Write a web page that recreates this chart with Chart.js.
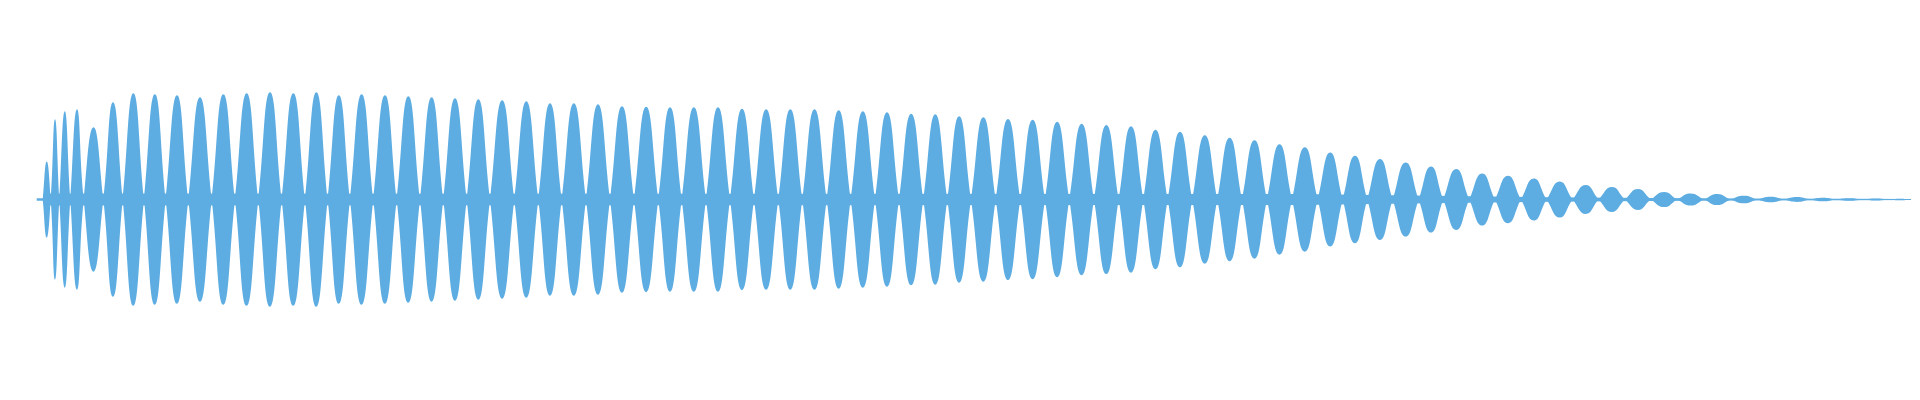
<!DOCTYPE html>
<html>
<head>
<meta charset="utf-8">
<script src="https://cdn.jsdelivr.net/npm/chart.js@4"></script>
<style>
  html, body { margin: 0; padding: 0; background: #ffffff; }
  #wrap { width: 1920px; height: 400px; }
</style>
</head>
<body>
<div id="wrap"><canvas id="waveChart"></canvas></div>
<script>
// time axis in ms, amplitude as fraction of full scale
const clipLength = 1920;

// zero-crossings of the envelope (ms)
const valleyTimes = [
    42.7, 50.7, 59.3, 70.3, 83.7, 103.3, 122.7, 144, 165.7, 188.3,
    211.7, 235, 258.3, 281.7, 305, 327.7, 350, 373.3, 396.7, 420,
    443.3, 466.7, 490, 514.3, 538.3, 561.7, 586, 610, 634, 658.3,
    681.7, 706, 730, 754, 778.3, 802.3, 826.7, 850.7, 875, 899,
    923.3, 947.3, 971, 995.7, 1020.3, 1045, 1069.3, 1094, 1118.7, 1143.3,
    1167.7, 1192.3, 1217.3, 1242, 1267, 1292, 1317.7, 1342.7, 1367.3, 1392.7,
    1418.7, 1443.3, 1469.3, 1495, 1521, 1546.7, 1572.7, 1598.7, 1625, 1651,
    1677.3, 1704, 1730.7, 1757.3, 1784, 1810, 1836, 1862.7, 1889, 1911
];

// peak amplitude of each lobe between two valleys
const peakAmps = [
    0.19, 0.40, 0.44, 0.45, 0.36, 0.485, 0.53, 0.525, 0.52, 0.51,
    0.525, 0.53, 0.535, 0.53, 0.535, 0.52, 0.525, 0.52, 0.515, 0.51,
    0.505, 0.50, 0.495, 0.49, 0.48, 0.48, 0.475, 0.465, 0.462, 0.46,
    0.46, 0.46, 0.452, 0.45, 0.45, 0.45, 0.445, 0.44, 0.435, 0.428,
    0.425, 0.415, 0.41, 0.402, 0.398, 0.388, 0.378, 0.372, 0.365, 0.348,
    0.338, 0.32, 0.308, 0.295, 0.275, 0.26, 0.235, 0.218, 0.202, 0.185,
    0.165, 0.152, 0.13, 0.118, 0.105, 0.09, 0.072, 0.062, 0.052, 0.038,
    0.03, 0.028, 0.019, 0.014, 0.012, 0.009, 0.0065, 0.005, 0.004
];

// residual level between lobes
const floorTimes = [36.7, 42.7, 44, 1300, 1450, 1550, 1650, 1750, 1850, 1911];
const floorAmps = [0.006, 0.006, 0.03, 0.028, 0.018, 0.011, 0.008, 0.005, 0.0035, 0.003];

const waveColor = '#5DADE2';

// two curves crossing at every valley; the area between them forms the lobes
const curveA = [{ x: valleyTimes[0], y: 0 }];
const curveB = [{ x: valleyTimes[0], y: 0 }];
peakAmps.forEach((amp, i) => {
    const c = (valleyTimes[i] + valleyTimes[i + 1]) / 2;
    const sign = i % 2 === 0 ? 1 : -1;
    curveA.push({ x: c, y: sign * amp }, { x: valleyTimes[i + 1], y: 0 });
    curveB.push({ x: c, y: -sign * amp }, { x: valleyTimes[i + 1], y: 0 });
});

// floor band: along the top, then back along the bottom
const floorPoints = [];
floorTimes.forEach((t, i) => floorPoints.push({ x: t, y: floorAmps[i] }));
for (let i = floorTimes.length - 1; i >= 0; i--) {
    floorPoints.push({ x: floorTimes[i], y: -floorAmps[i] });
}

new Chart(document.getElementById('waveChart'), {
    type: 'line',
    data: {
        datasets: [
            {
                data: floorPoints,
                fill: 'shape',
                backgroundColor: waveColor,
                borderWidth: 0,
                pointRadius: 0,
                tension: 0
            },
            {
                data: curveA,
                fill: false,
                borderWidth: 0,
                pointRadius: 0,
                tension: 0.5
            },
            {
                data: curveB,
                fill: '-1',
                backgroundColor: waveColor,
                borderWidth: 0,
                pointRadius: 0,
                tension: 0.5
            }
        ]
    },
    options: {
        responsive: true,
        maintainAspectRatio: false,
        animation: false,
        devicePixelRatio: 1,
        events: [],
        layout: { padding: 0 },
        plugins: { legend: { display: false }, tooltip: { enabled: false } },
        scales: {
            x: { type: 'linear', min: 0, max: clipLength, display: false },
            y: { min: -1, max: 0.995, display: false }
        }
    }
});
</script>
</body>
</html>
